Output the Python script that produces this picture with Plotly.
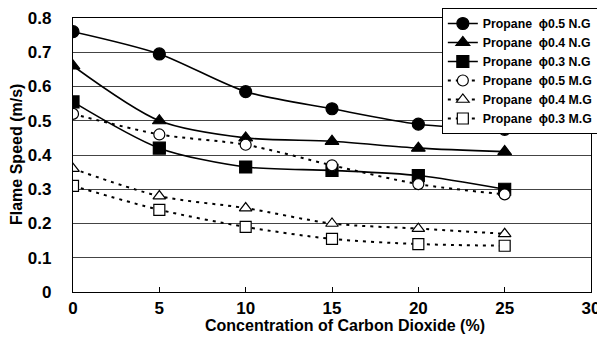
import plotly.graph_objects as go

co2 = [0, 5, 10, 15, 20, 25]
ng_05 = [0.76, 0.695, 0.585, 0.535, 0.49, 0.475]
ng_04 = [0.66, 0.50, 0.45, 0.44, 0.42, 0.41]
ng_03 = [0.555, 0.42, 0.365, 0.355, 0.34, 0.30]
mg_05 = [0.52, 0.46, 0.43, 0.37, 0.315, 0.285]
mg_04 = [0.36, 0.28, 0.245, 0.20, 0.185, 0.17]
mg_03 = [0.31, 0.24, 0.19, 0.155, 0.14, 0.135]

names = ["Propane  \u03d50.5 N.G", "Propane  \u03d50.4 N.G", "Propane  \u03d50.3 N.G",
         "Propane  \u03d50.5 M.G", "Propane  \u03d50.4 M.G", "Propane  \u03d50.3 M.G"]
series = [ng_05, ng_04, ng_03, mg_05, mg_04, mg_03]
symbols = ["circle", "triangle-up", "square", "circle", "triangle-up", "square"]
fills = ["black", "black", "black", "white", "white", "white"]
dashes = ["solid", "solid", "solid", "3px,5px", "3px,5px", "3px,5px"]

x_title = "Concentration of Carbon Dioxide (%)"
y_title = "Flame Speed (m/s)"

fig = go.Figure()
for name, ys, sym, fill, dash in zip(names, series, symbols, fills, dashes):
    fig.add_trace(go.Scatter(
        x=co2, y=ys, name=name, mode="lines+markers",
        line=dict(color="black", width=1.6 if dash == "solid" else 2, dash=dash,
                  shape="spline", smoothing=0.8),
        marker=dict(symbol=sym, size=12 if fill == "black" else 11, color=fill,
                    line=dict(color="black", width=1.2)),
    ))

font = "Liberation Sans, Arial, sans-serif"
fig.update_layout(
    width=597, height=339,
    margin=dict(l=65, r=14, t=10, b=55, autoexpand=False),
    paper_bgcolor="white", plot_bgcolor="white",
    font=dict(family=font, size=15, color="black"),
    showlegend=True,
    legend=dict(xref="container", yref="container", x=0.988, y=1.0,
                xanchor="right", yanchor="top",
                bgcolor="white", bordercolor="black", borderwidth=1,
                font=dict(size=12.3, family=font, color="black", weight="bold"),
                tracegroupgap=0, itemwidth=30),
    xaxis=dict(range=[0, 30], tickvals=[0, 5, 10, 15, 20, 25, 30],
               ticks="inside", ticklen=5, tickcolor="black",
               showline=True, linecolor="black", linewidth=1.2, mirror=True,
               showgrid=False, zeroline=False, automargin=False,
               tickfont=dict(size=17, family=font, weight="bold")),
    yaxis=dict(range=[0, 0.8], tickvals=[0, 0.1, 0.2, 0.3, 0.4, 0.5, 0.6, 0.7, 0.8],
               ticktext=["0", "0.1", "0.2", "0.3", "0.4", "0.5", "0.6", "0.7", "0.8"],
               ticks="", showline=True, linecolor="black", linewidth=1.2, mirror=True,
               showgrid=True, gridcolor="#444", gridwidth=1, zeroline=False,
               automargin=False, ticklabelstandoff=17,
               tickfont=dict(size=17, family=font, weight="bold")),
    annotations=[
        dict(text="<b>" + x_title + "</b>", xref="paper", yref="paper", x=0.525, y=0,
             yshift=-33, xanchor="center", yanchor="middle", showarrow=False,
             font=dict(size=16, family=font, color="black")),
        dict(text="<b>" + y_title + "</b>", xref="paper", yref="paper", x=0, y=0.5,
             xshift=-57, xanchor="center", yanchor="middle", textangle=-90, showarrow=False,
             font=dict(size=16, family=font, color="black")),
    ],
)

fig.write_html("out.html")
